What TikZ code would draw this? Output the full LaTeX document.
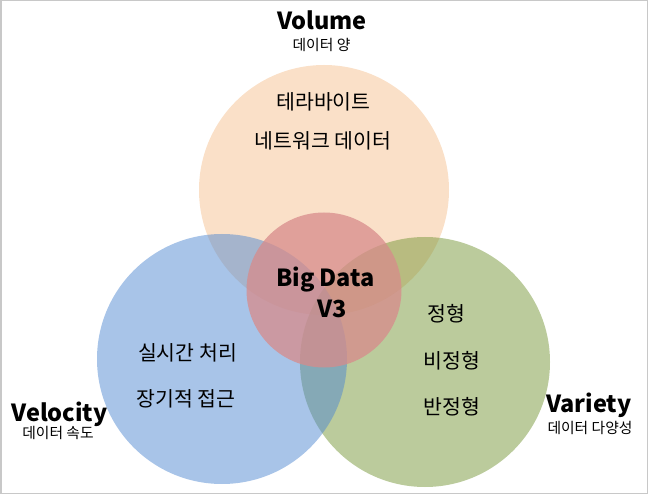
\documentclass[tikz,border=0pt]{standalone}
\usepackage{fontspec}
\setmainfont{Noto Sans CJK KR}
\definecolor{volumec}{RGB}{245,193,145}
\definecolor{velocityc}{RGB}{81,137,209}
\definecolor{varietyc}{RGB}{119,151,57}
\definecolor{bigc}{RGB}{215,139,139}
\definecolor{framec}{RGB}{200,200,200}
\begin{document}
\begin{tikzpicture}[x=1pt, y=-1pt,
		bubble/.style={circle, inner sep=0pt, minimum size=250pt, fill opacity=.5},
		title/.style={anchor=base, font=\fontsize{23.5}{26}\selectfont\bfseries},
		sub/.style={anchor=base, font=\fontsize{14.8}{16}\selectfont},
		item/.style={anchor=base, font=\fontsize{20.5}{22}\selectfont}]
		\useasboundingbox (0,0) rectangle (648,494);
		\draw[line width=1.5pt, color=framec] (0.75,0.75) rectangle (647.25,493.25);
		\node[bubble, fill=volumec] (volume) at (324,190) {};
		\node[bubble, fill=varietyc] (variety) at (425,362) {};
		\node[bubble, fill=velocityc] (velocity) at (222,359) {};
		\node[circle, inner sep=0pt, minimum size=155pt, fill=bigc, fill opacity=.75] (big) at (324,290) {};
		\node[title] (volumet) at (322,29.5) {Volume};
		\node[sub] (volumes) at (321.5,51) {데이터 양};
		\node[title] (velocityt) at (59.5,421) {Velocity};
		\node[sub] (velocitys) at (58,438) {데이터 속도};
		\node[title] (varietyt) at (589,412) {Variety};
		\node[sub] (varietys) at (590,433) {데이터 다양성};
		\node[title] (bigt) at (325.5,287) {Big Data};
		\node[title] (bigv) at (332,318) {V3};
		\node[item] (tera) at (323.5,110) {테라바이트};
		\node[item] (network) at (323,149) {네트워크 데이터};
		\node[item] (realtime) at (187.5,360) {실시간 처리};
		\node[item] (longterm) at (186,406) {장기적 접근};
		\node[item] (struct) at (446,322) {정형};
		\node[item] (unstruct) at (452,368) {비정형};
		\node[item] (semi) at (452,414) {반정형};
	\end{tikzpicture}
\end{document}
